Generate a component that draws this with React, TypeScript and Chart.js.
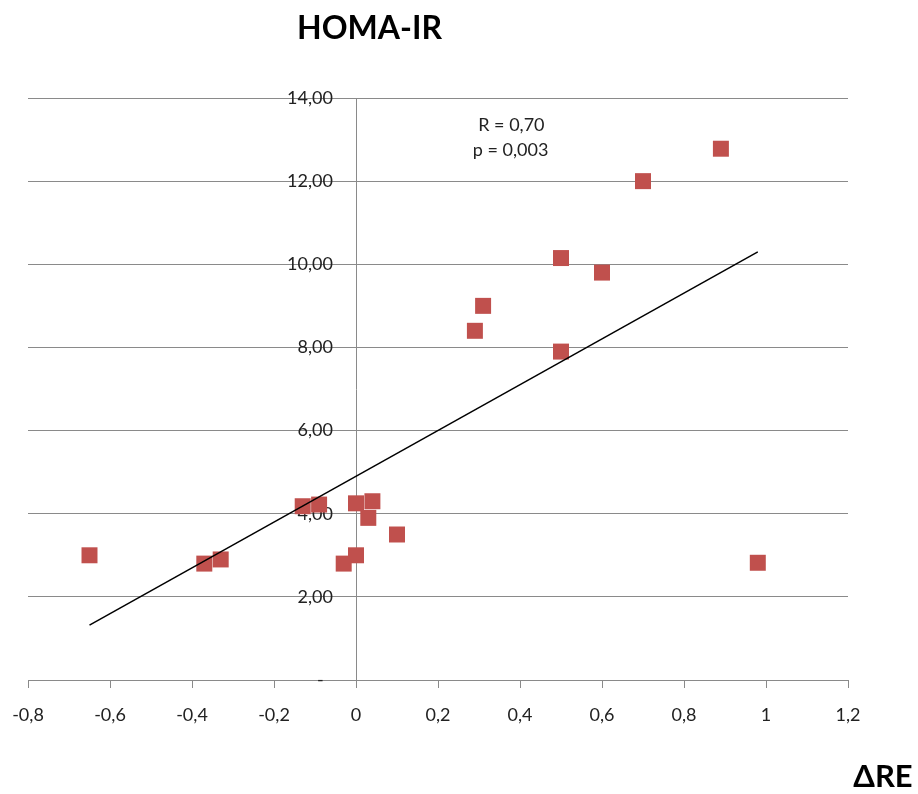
import React, { useEffect, useRef } from "react";
import { Chart, registerables } from "chart.js";

Chart.register(...registerables);

const xValues = [-0.65, -0.37, -0.33, -0.13, -0.09, -0.03, 0, 0, 0.03, 0.04, 0.1, 0.29, 0.31, 0.5, 0.5, 0.6, 0.7, 0.89, 0.98];
const yValues = [3.0, 2.8, 2.9, 4.18, 4.22, 2.8, 3.0, 4.25, 3.9, 4.3, 3.5, 8.4, 9.0, 10.15, 7.9, 9.8, 12.0, 12.78, 2.82];

const trendX = [-0.65, 0.98];
const trendY = [1.32, 10.3];

const xTickValues = [-0.8, -0.6, -0.4, -0.2, 0, 0.2, 0.4, 0.6, 0.8, 1, 1.2];
const xTickLabels = ["-0,8", "-0,6", "-0,4", "-0,2", "0", "0,2", "0,4", "0,6", "0,8", "1", "1,2"];
const yTickValues = [0, 2, 4, 6, 8, 10, 12, 14];
const yTickLabels = ["-", "2,00", "4,00", "6,00", "8,00", "10,00", "12,00", "14,00"];

const titleText = "HOMA-IR";
const xTitleText = "ΔRE";
const statLines = ["R = 0,70", "p = 0,003"];

const GRID = "#8a8a8a";
const FONT = "Lato, 'Open Sans', sans-serif";

const textPlugin = {
  id: "texts",
  afterDraw(chart: any) {
    const ctx = chart.ctx;
    const xs = chart.scales.x;
    const ys = chart.scales.y;
    ctx.save();
    ctx.fillStyle = "#000";
    ctx.textAlign = "center";
    ctx.textBaseline = "alphabetic";
    ctx.font = "bold 32px " + FONT;
    ctx.fillText(titleText, 369.5, 38.5);
    ctx.font = "bold 31px " + FONT;
    ctx.fillText(xTitleText, 883, 786.5);
    ctx.fillStyle = "#222";
    ctx.font = "18px " + FONT;
    ctx.fillText(statLines[0], xs.getPixelForValue(0.379), ys.getPixelForValue(13.2));
    ctx.fillText(statLines[1], xs.getPixelForValue(0.377), ys.getPixelForValue(12.61));
    ctx.restore();
  },
};

export default function App() {
  const ref = useRef<HTMLCanvasElement>(null);
  useEffect(() => {
    const canvas = ref.current!;
    const chart = new Chart(canvas, {
      type: "scatter",
      data: {
        datasets: [
          {
            type: "line",
            data: trendX.map((x, i) => ({ x, y: trendY[i] })),
            borderColor: "#000",
            borderWidth: 1.5,
            pointRadius: 0,
            fill: false,
          } as any,
          {
            data: xValues.map((x, i) => ({ x, y: yValues[i] })),
            pointStyle: "rect",
            pointRadius: 11.3,
            pointHoverRadius: 11.3,
            backgroundColor: "#C0504D",
            borderWidth: 0,
          },
        ],
      },
      options: {
        responsive: false,
        animation: false,
        devicePixelRatio: 1,
        layout: { padding: { left: 28, right: 70, top: 98, bottom: 114 } },
        plugins: {
          legend: { display: false },
          tooltip: { enabled: false },
          title: { display: false },
        },
        scales: {
          x: {
            type: "linear",
            position: { y: 0 } as any,
            min: -0.8,
            max: 1.2,
            afterBuildTicks: (s: any) => {
              s.ticks = xTickValues.map((v) => ({ value: v }));
            },
            grid: {
              drawOnChartArea: false,
              drawTicks: true,
              tickLength: 7,
              color: GRID,
              lineWidth: 1,
            },
            border: { display: true, color: GRID, width: 1 },
            ticks: {
              padding: 4,
              color: "#222",
              font: { family: FONT, size: 18, lineHeight: 48 / 18 },
              callback: (_v: any, i: number) => xTickLabels[i],
            },
          },
          y: {
            type: "linear",
            position: { x: 0 } as any,
            min: 0,
            max: 14,
            afterBuildTicks: (s: any) => {
              s.ticks = yTickValues.map((v) => ({ value: v }));
            },
            grid: {
              drawOnChartArea: true,
              drawTicks: false,
              color: GRID,
              lineWidth: 1,
            },
            border: { display: true, color: GRID, width: 1 },
            ticks: {
              color: "#222",
              font: { family: FONT, size: 18 },
              callback: (_v: any, i: number) =>
                yTickLabels[i] + (i === 0 ? "       " : "     "),
            },
          },
        },
      },
      plugins: [textPlugin],
    });
    return () => chart.destroy();
  }, []);
  return (
    <div style={{ position: "absolute", left: 0, top: 0, width: 918, height: 794, background: "#fff" }}>
      <canvas ref={ref} width={918} height={794} style={{ display: "block" }} />
    </div>
  );
}
